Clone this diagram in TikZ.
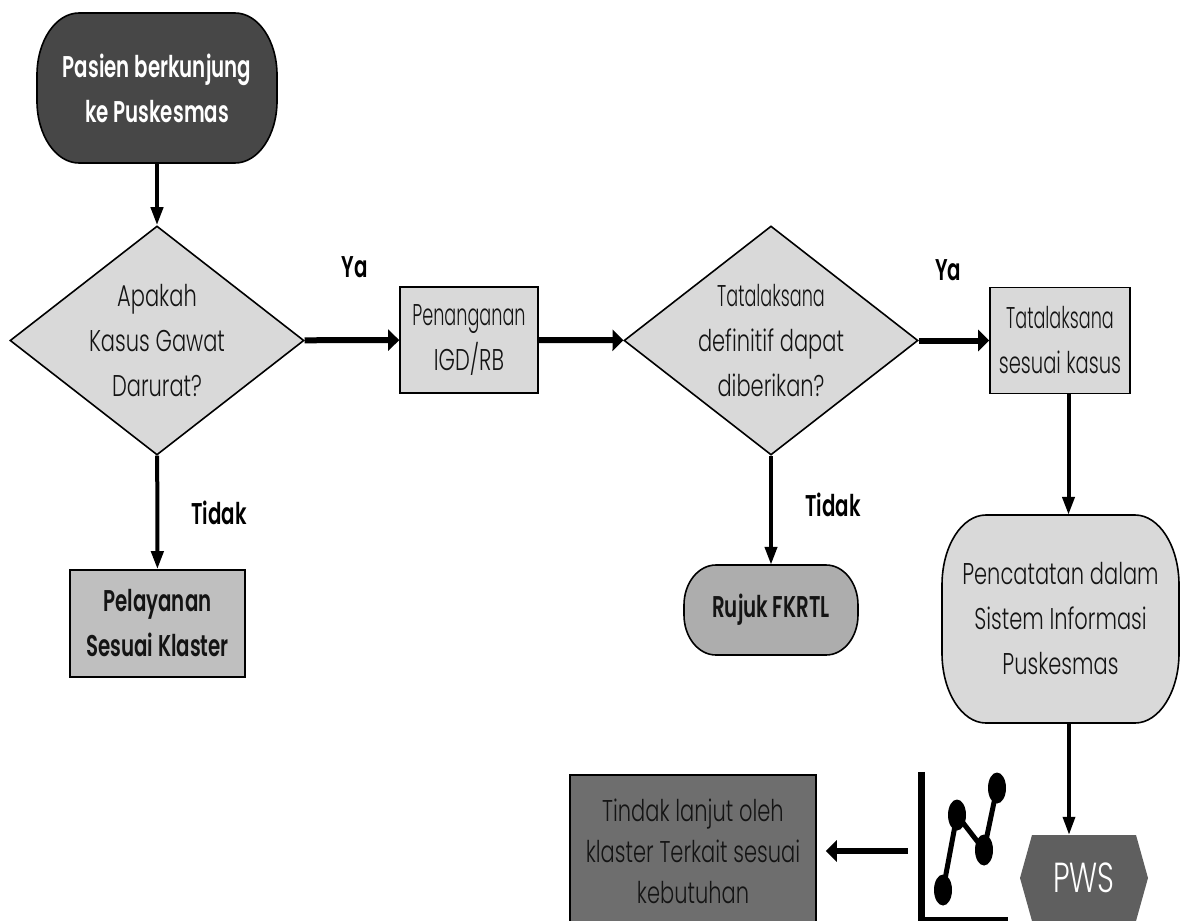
\documentclass[tikz,border=0pt]{standalone}
\usepackage{fontspec}
\usepackage{tikz}
\usetikzlibrary{shapes.geometric, arrows.meta, positioning, calc}
\setmainfont[FakeStretch=0.70,BoldFont={Poppins SemiBold},BoldFeatures={FakeStretch=0.66}]{Poppins Light}
\definecolor{lightgrey}{HTML}{D9D9D9}
\definecolor{midgrey}{HTML}{BFBFBF}
\definecolor{roundgrey}{HTML}{ADADAD}
\definecolor{darkgrey}{HTML}{6E6E6E}
\definecolor{hexgrey}{HTML}{5F5F5F}
\definecolor{startgrey}{HTML}{474747}
\definecolor{inkgrey}{HTML}{141414}
\newcommand{\squeeze}[2]{\scalebox{#1}[1]{#2}}
\tikzset{
    label text/.style={font=\fontsize{30}{45}\selectfont, align=center, text=inkgrey},
    strong text/.style={font=\fontsize{30}{45}\bfseries\selectfont},
    decision/.style={diamond, draw, line width=1.6pt, fill=lightgrey, minimum width=294pt, minimum height=229pt, aspect=1.28, inner sep=0pt, label text},
    block/.style={rectangle, draw, line width=1.6pt, minimum width=138pt, minimum height=106pt, inner sep=0pt, label text},
    tag/.style={font=\fontsize{30}{30}\bfseries\selectfont, text=black},
    flow/.style={draw, -{Triangle[length=18pt,width=12pt]}, line width=4pt},
    heavy/.style={draw, -{Triangle[length=11pt,width=21pt]}, line width=6pt},
    dot/.style={ellipse, fill=black, minimum width=18pt, minimum height=31pt, inner sep=0pt}
}
% rounded box with oval corners: left, top, right, bottom, rx, ry, fill
\newcommand{\ovalbox}[7]{
    \draw[line width=1.6pt, fill=#7] (#1,#2+#6) arc[start angle=180, end angle=90, x radius=#5, y radius=-#6]
        -- (#3-#5,#2) arc[start angle=90, end angle=0, x radius=#5, y radius=-#6]
        -- (#3,#4-#6) arc[start angle=0, end angle=-90, x radius=#5, y radius=-#6]
        -- (#1+#5,#4) arc[start angle=-90, end angle=-180, x radius=#5, y radius=-#6] -- cycle;
}
\begin{document}
\begin{tikzpicture}[x=1pt,y=-1pt]
    \useasboundingbox (0,0) rectangle (1181,921);
    % oval boxes go under their nodes
    \ovalbox{37}{13}{277}{163}{42}{62}{startgrey}
    \ovalbox{684}{565}{858}{655}{32}{40}{roundgrey}
    \ovalbox{942}{515}{1179}{723}{44}{70}{lightgrey}
    \fill[hexgrey] (1020,878) -- (1032,835) -- (1136,835) -- (1148,878) -- (1136,921) -- (1032,921) -- cycle;

    \node[label text, strong text, minimum width=240pt, minimum height=150pt, inner sep=0pt, text=white] (start) at (157,88) {Pasien berkunjung\\ke Puskesmas};
    \node[decision] (gawat) at (157,340.5) {Apakah\\Kasus Gawat\\Darurat?};
    \node[block, fill=lightgrey] (igd) at (469,340) {\squeeze{0.84}{Penanganan}\\IGD/RB};
    \node[decision] (definitif) at (771,340.5) {\squeeze{0.84}{Tatalaksana}\\definitif dapat\\diberikan?};
    \node[block, fill=lightgrey, minimum width=140pt] (kasus) at (1060,340.5) {\squeeze{0.84}{Tatalaksana}\\\squeeze{0.93}{sesuai kasus}};
    \node[block, strong text, fill=midgrey, minimum width=175pt, minimum height=107pt] (klaster) at (157.5,623.5) {Pelayanan\\Sesuai Klaster};
    \node[label text, strong text, minimum width=174pt, minimum height=90pt, inner sep=0pt] (fkrtl) at (771,610) {Rujuk FKRTL};
    \node[label text, minimum width=237pt, minimum height=208pt, inner sep=0pt] (catat) at (1060.5,619) {Pencatatan dalam\\Sistem Informasi\\Puskesmas};
    \node[minimum width=128pt, minimum height=86pt, inner sep=0pt, text=white, font=\fontsize{42}{44}\selectfont] (pws) at (1084,878) {PWS};
    \node[block, fill=darkgrey, minimum width=246pt, minimum height=152pt, font=\fontsize{30}{41}\selectfont] (lanjut) at (693,851) {Tindak lanjut oleh\\klaster Terkait sesuai\\kebutuhan};

    % small chart
    \node[minimum width=90pt, minimum height=148pt, inner sep=0pt] (chart) at (963,846) {};
    \draw[line width=7pt] (chart.north west) ++(3.5,0) |- (chart.south east);
    \node[dot] (pta) at (943,890) {};
    \node[dot] (ptb) at (957,815) {};
    \node[dot] (ptc) at (984,850) {};
    \node[dot] (ptd) at (997,788) {};
    \draw[line width=5pt] (pta.center) -- (ptb.center) -- (ptc.center) -- (ptd.center);

    \node[tag] (yaa) at (355,267) {Ya};
    \node[tag] (yab) at (948,270) {Ya};
    \node[tag] (tidaka) at (219,513) {Tidak};
    \node[tag] (tidakb) at (833,505) {Tidak};

    \coordinate (kasusout) at (1068.5,393);
    \coordinate (catatout) at (1069,723);
    \draw[flow] (start) -- (gawat);
    \draw[heavy] (gawat) -- (igd);
    \draw[heavy] (igd) -- (definitif);
    \draw[heavy] (definitif) -- (kasus);
    \draw[flow] (gawat) -- (klaster);
    \draw[flow] (definitif) -- (fkrtl);
    \draw[flow] (kasusout) -- (kasusout |- catat.north);
    \draw[flow, line width=3.5pt] (catatout) -- (catatout |- pws.north);
    \draw[heavy, shorten <=10pt, shorten >=9pt] (chart.west |- lanjut) -- (lanjut);
\end{tikzpicture}
\end{document}
